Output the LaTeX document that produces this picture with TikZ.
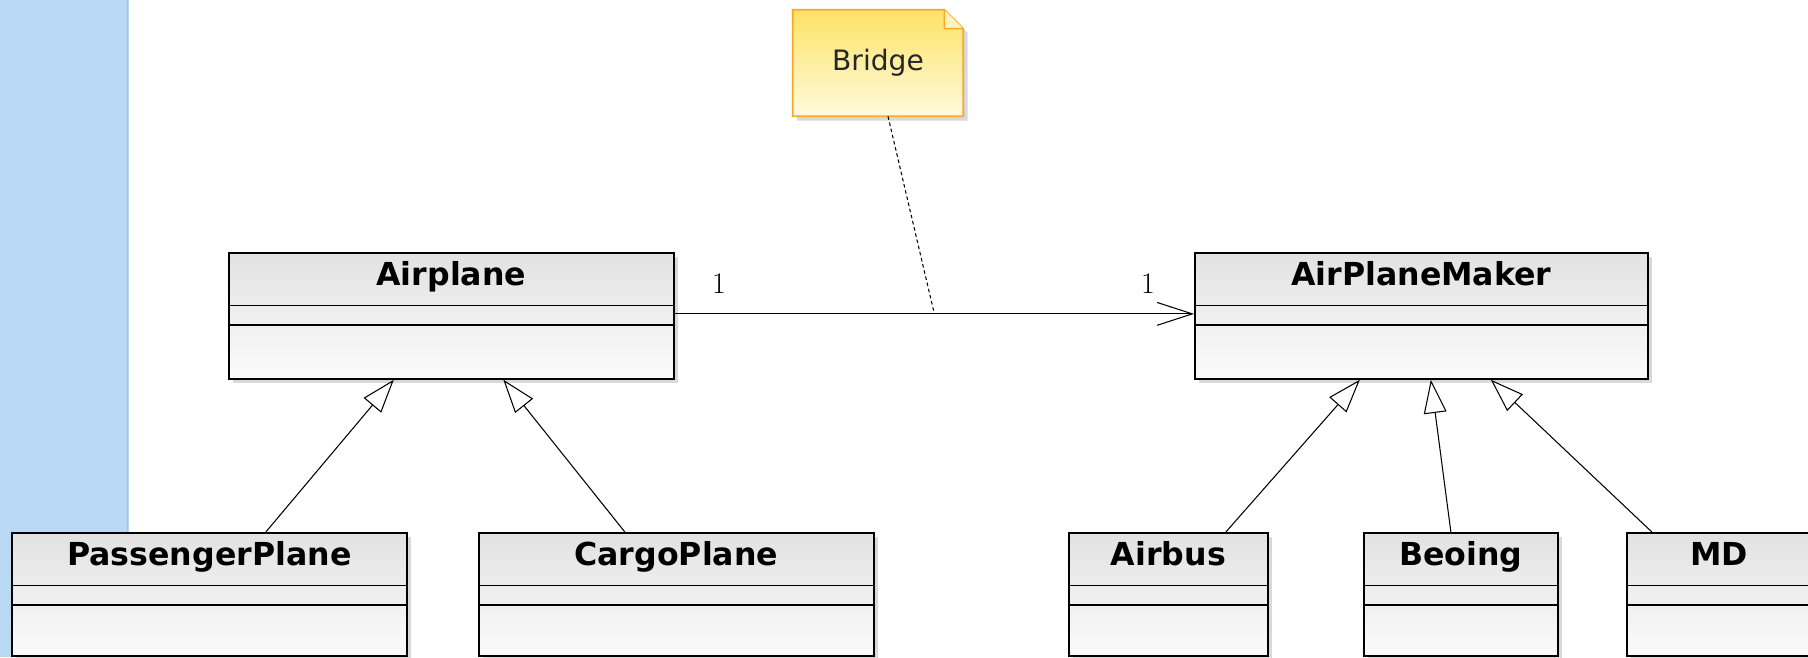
\documentclass[tikz,border=0pt]{standalone}
\usepackage{fontspec}
\newfontfamily\umlfont{DejaVu Sans}
\usetikzlibrary{arrows.meta,shadows,backgrounds,positioning}

\definecolor{stripblue}{RGB}{184,216,244}
\definecolor{classtop}{RGB}{226,226,226}
\definecolor{classbot}{RGB}{251,251,251}
\definecolor{noteedge}{RGB}{246,170,40}
\definecolor{notetop}{RGB}{253,226,100}
\definecolor{notebot}{RGB}{255,251,222}
\definecolor{notefold}{RGB}{255,242,190}

\tikzset{
  classbox/.style={draw, line width=1pt, anchor=north west, inner sep=0pt,
    minimum height=2.52cm, top color=classtop, bottom color=classbot,
    drop shadow={shadow xshift=2.5pt, shadow yshift=-2.5pt, opacity=0.15, fill=black},
    path picture={
      \draw[line width=1pt] ([yshift=-1.05cm]path picture bounding box.north west)
        -- ([yshift=-1.05cm]path picture bounding box.north east);
      \draw[line width=1pt] ([yshift=-1.44cm]path picture bounding box.north west)
        -- ([yshift=-1.44cm]path picture bounding box.north east);}},
  classname/.style={font=\umlfont\bfseries\fontsize{18}{20}\selectfont,
    text height=13pt, text depth=0pt, inner sep=0pt},
  mult/.style={font=\fontsize{17}{20}\selectfont, inner sep=0pt},
  assoc/.style={line width=0.6pt, -{Straight Barb[length=20pt, width=13pt]}},
  inherit/.style={line width=0.6pt, -{Triangle[open, length=19pt, width=13pt]}},
}

\begin{document}
\begin{tikzpicture}[x=0.02cm, y=-0.02cm]
  \useasboundingbox (0,0) rectangle (1808,657);
  \fill[stripblue] (0,0) rectangle (129,657);
  \draw[stripblue!75!black, line width=1pt, opacity=0.4] (127.5,0) -- (127.5,657);

  % classes
  \node[classbox, minimum width=8.9cm] (airplane) at (228,252) {};
  \node[classbox, minimum width=9.06cm] (maker) at (1194,252) {};
  \node[classbox, minimum width=7.9cm, minimum height=2.46cm] (passenger) at (11,532) {};
  \node[classbox, minimum width=7.9cm, minimum height=2.46cm] (cargo) at (478,532) {};
  \node[classbox, minimum width=3.98cm, minimum height=2.46cm] (airbus) at (1068,532) {};
  \node[classbox, minimum width=3.88cm, minimum height=2.46cm] (beoing) at (1363,532) {};
  \node[classbox, minimum width=3.7cm, minimum height=2.46cm] (md) at (1626,532) {};

  \node[classname] (airplanename) at ([yshift=-0.44cm]airplane.north) {Airplane};
  \node[classname] (makername) at ([yshift=-0.44cm]maker.north) {AirPlaneMaker};
  \node[classname] (passengername) at ([yshift=-0.44cm]passenger.north) {PassengerPlane};
  \node[classname] (cargoname) at ([yshift=-0.44cm]cargo.north) {CargoPlane};
  \node[classname] (airbusname) at ([yshift=-0.44cm]airbus.north) {Airbus};
  \node[classname] (beoingname) at ([yshift=-0.44cm]beoing.north) {Beoing};
  \node[classname] (mdname) at ([yshift=-0.44cm]md.north) {MD};

  % note
  \node[font=\umlfont\fontsize{16}{19}\selectfont, text=black!85,
    minimum width=3.4cm, minimum height=2.12cm] (bridge) at (878,63) {Bridge};
  \begin{pgfonlayer}{background}
    \path[draw=noteedge, line width=1pt, top color=notetop, bottom color=notebot,
      drop shadow={shadow xshift=2.5pt, shadow yshift=-2.5pt, opacity=0.15, fill=black}]
      (bridge.north west) -- ([xshift=-0.38cm]bridge.north east)
      -- ([yshift=-0.38cm]bridge.north east) -- (bridge.south east)
      -- (bridge.south west) -- cycle;
    \draw[noteedge, fill=notefold, line width=0.8pt] ([xshift=-0.38cm]bridge.north east)
      -- ++(0,19) -- ([yshift=-0.38cm]bridge.north east);
  \end{pgfonlayer}

  % association
  \draw[assoc] ([yshift=0.04cm]airplane.east) -- coordinate[pos=0.5] (bridgefoot)
    ([yshift=0.04cm]maker.west);
  \node[mult] (mstart) at (719,284) {1};
  \node[mult] (mend) at (1148,284) {1};
  \draw[dash pattern=on 2pt off 1.6pt, line width=0.6pt] ([xshift=0.2cm]bridge.south) -- (bridgefoot);

  % generalization
  \draw[inherit] ([xshift=1.13cm]passenger.north) -- ([xshift=-1.15cm]airplane.south);
  \draw[inherit] ([xshift=-1.03cm]cargo.north) -- ([xshift=1.04cm]airplane.south);
  \draw[inherit] ([xshift=1.15cm]airbus.north) -- ([xshift=-1.23cm]maker.south);
  \draw[inherit] ([xshift=-0.2cm]beoing.north) -- ([xshift=0.19cm]maker.south);
  \draw[inherit] ([xshift=-1.35cm]md.north) -- ([xshift=1.39cm]maker.south);
\end{tikzpicture}
\end{document}
